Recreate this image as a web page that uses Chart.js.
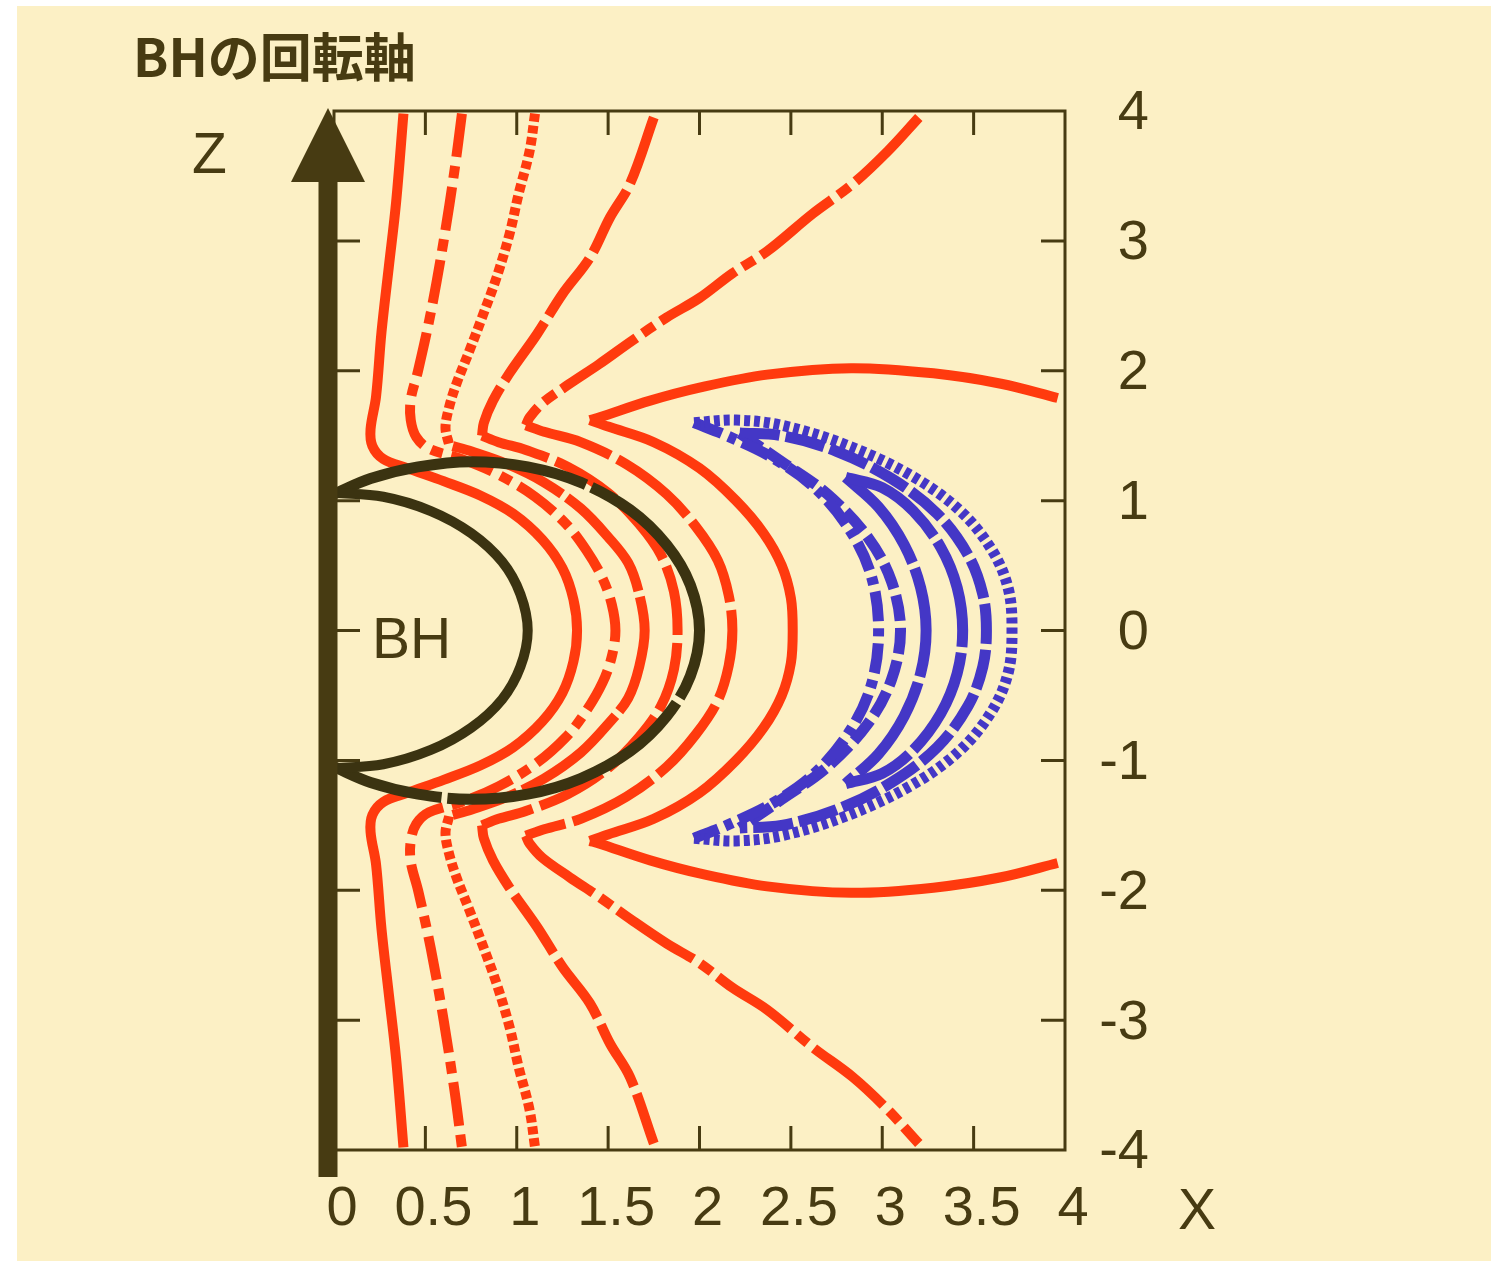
<!DOCTYPE html>
<html lang="ja">
<head>
<meta charset="UTF-8">
<title>BHの回転軸</title>
<script src="https://cdn.jsdelivr.net/npm/chart.js"></script>
<style>
  html, body { margin: 0; padding: 0; background: #ffffff; }
</style>
</head>
<body>
<canvas id="grafica" width="1491" height="1261"></canvas>
<script>
// ejes
const xTicks = [0, 0.5, 1, 1.5, 2, 2.5, 3, 3.5, 4];
const zTicks = [-4, -3, -2, -1, 0, 1, 2, 3, 4];

// horizonte y ergosfera
const horizX = [0, 0.27, 0.53, 0.75, 0.92, 1.02, 1.06, 1.02, 0.92, 0.75, 0.53, 0.27, 0];
const horizZ = [1.06, 1.03, 0.92, 0.75, 0.53, 0.28, 0, -0.28, -0.53, -0.75, -0.92, -1.03, -1.06];
const ergoX = [0, 0.20, 0.46, 0.75, 1.06, 1.35, 1.62, 1.82, 1.95, 2.00, 1.95, 1.82, 1.62, 1.35, 1.06, 0.75, 0.46, 0.20, 0];
const ergoZ = [1.05, 1.17, 1.26, 1.30, 1.26, 1.14, 0.93, 0.66, 0.35, 0, -0.35, -0.66, -0.93, -1.14, -1.26, -1.30, -1.26, -1.17, -1.05];

// lineas de campo (rojas)
const l1X = [0.38, 0.34, 0.30, 0.26, 0.23, 0.20, 0.21, 0.27, 0.40, 0.60, 0.80, 0.98, 1.14, 1.25, 1.31, 1.33, 1.31, 1.25, 1.14, 0.98, 0.80, 0.60, 0.40, 0.27, 0.21, 0.20, 0.23, 0.26, 0.30, 0.34, 0.38];
const l1Z = [3.98, 3.30, 2.80, 2.30, 1.80, 1.55, 1.42, 1.32, 1.25, 1.15, 1.04, 0.90, 0.70, 0.48, 0.24, 0, -0.24, -0.48, -0.70, -0.90, -1.04, -1.15, -1.25, -1.32, -1.42, -1.55, -1.80, -2.30, -2.80, -3.30, -3.98];

const l2X = [0.70, 0.66, 0.60, 0.53, 0.46, 0.42, 0.42, 0.45, 0.52, 0.70, 0.90, 1.10, 1.27, 1.38, 1.47, 1.52, 1.54, 1.52, 1.47, 1.38, 1.27, 1.10, 0.90, 0.70, 0.52, 0.45, 0.42, 0.42, 0.46, 0.53, 0.60, 0.66, 0.70];
const l2Z = [3.98, 3.55, 3.00, 2.45, 2.00, 1.78, 1.62, 1.49, 1.40, 1.32, 1.20, 1.03, 0.82, 0.62, 0.40, 0.20, 0, -0.20, -0.40, -0.62, -0.82, -1.03, -1.20, -1.32, -1.40, -1.49, -1.62, -1.78, -2.00, -2.45, -3.00, -3.55, -3.98];

const l3TopX = [1.10, 1.07, 1.01, 0.96, 0.89, 0.81, 0.74, 0.67, 0.63, 0.61, 0.63];
const l3TopZ = [3.98, 3.69, 3.36, 3.05, 2.72, 2.41, 2.15, 1.90, 1.72, 1.56, 1.43];
const l3ArcX = [0.65, 0.75, 0.95, 1.15, 1.35, 1.50, 1.61, 1.67, 1.70, 1.67, 1.61, 1.50, 1.35, 1.15, 0.95, 0.75, 0.65];
const l3ArcZ = [1.42, 1.38, 1.28, 1.14, 0.94, 0.72, 0.52, 0.28, 0, -0.28, -0.52, -0.72, -0.94, -1.14, -1.28, -1.38, -1.42];
const l3BotX = [0.63, 0.61, 0.63, 0.67, 0.74, 0.81, 0.89, 0.96, 1.01, 1.07, 1.10];
const l3BotZ = [-1.43, -1.56, -1.72, -1.90, -2.15, -2.41, -2.72, -3.05, -3.36, -3.69, -3.98];

const l4TopX = [1.75, 1.62, 1.51, 1.40, 1.25, 1.11, 0.96, 0.87, 0.82, 0.81];
const l4TopZ = [3.95, 3.44, 3.18, 2.87, 2.59, 2.28, 1.98, 1.77, 1.60, 1.50];
const l4ArcX = [0.81, 0.90, 1.05, 1.28, 1.50, 1.67, 1.79, 1.86, 1.88, 1.86, 1.79, 1.67, 1.50, 1.28, 1.05, 0.90, 0.81];
const l4ArcZ = [1.50, 1.45, 1.39, 1.26, 1.06, 0.82, 0.58, 0.30, 0, -0.30, -0.58, -0.82, -1.06, -1.26, -1.39, -1.45, -1.50];
const l4BotX = [0.81, 0.82, 0.87, 0.96, 1.11, 1.25, 1.40, 1.51, 1.62, 1.75];
const l4BotZ = [-1.50, -1.60, -1.77, -1.98, -2.28, -2.59, -2.87, -3.18, -3.44, -3.95];

const l5TopX = [3.20, 3.03, 2.84, 2.62, 2.37, 2.18, 2.00, 1.82, 1.63, 1.45, 1.29, 1.14, 1.07, 1.05];
const l5TopZ = [3.95, 3.69, 3.44, 3.21, 2.92, 2.75, 2.56, 2.41, 2.23, 2.05, 1.90, 1.75, 1.64, 1.58];
const l5ArcX = [1.05, 1.15, 1.35, 1.60, 1.82, 1.98, 2.10, 2.16, 2.18, 2.16, 2.10, 1.98, 1.82, 1.60, 1.35, 1.15, 1.05];
const l5ArcZ = [1.58, 1.53, 1.45, 1.28, 1.05, 0.80, 0.54, 0.27, 0, -0.27, -0.54, -0.80, -1.05, -1.28, -1.45, -1.53, -1.58];
const l5BotX = [1.05, 1.07, 1.14, 1.29, 1.45, 1.63, 1.82, 2.00, 2.18, 2.37, 2.62, 2.84, 3.03, 3.20];
const l5BotZ = [-1.58, -1.64, -1.75, -1.90, -2.05, -2.23, -2.41, -2.56, -2.75, -2.92, -3.21, -3.44, -3.69, -3.95];

const l6TopX = [3.96, 3.65, 3.28, 2.83, 2.37, 2.00, 1.73, 1.45, 1.40];
const l6TopZ = [1.79, 1.90, 1.98, 2.02, 1.97, 1.87, 1.77, 1.64, 1.62];
const l6ArcX = [1.40, 1.50, 1.75, 2.00, 2.20, 2.35, 2.45, 2.50, 2.51, 2.50, 2.45, 2.35, 2.20, 2.00, 1.75, 1.50, 1.40];
const l6ArcZ = [1.62, 1.57, 1.45, 1.25, 1.00, 0.75, 0.50, 0.25, 0, -0.25, -0.50, -0.75, -1.00, -1.25, -1.45, -1.57, -1.62];
const l6BotX = [1.40, 1.45, 1.73, 2.00, 2.37, 2.83, 3.28, 3.65, 3.96];
const l6BotZ = [-1.62, -1.64, -1.77, -1.87, -1.97, -2.02, -1.98, -1.90, -1.79];

// lazos cerrados (azules)
const aOutX = [1.97, 2.20, 2.45, 2.80, 3.15, 3.42, 3.60, 3.69, 3.71, 3.69, 3.60, 3.42, 3.15, 2.80, 2.45, 2.20, 1.97];
const aOutZ = [1.60, 1.62, 1.58, 1.43, 1.20, 0.93, 0.62, 0.32, 0, -0.32, -0.62, -0.93, -1.20, -1.43, -1.58, -1.62, -1.60];
const aInX = [1.97, 2.15, 2.40, 2.63, 2.82, 2.94, 2.98, 2.94, 2.82, 2.63, 2.40, 2.15, 1.97];
const aInZ = [1.60, 1.50, 1.33, 1.10, 0.78, 0.42, 0, -0.42, -0.78, -1.10, -1.33, -1.50, -1.60];
const bOutX = [2.22, 2.45, 2.75, 3.05, 3.30, 3.47, 3.55, 3.57, 3.55, 3.47, 3.30, 3.05, 2.75, 2.45, 2.22];
const bOutZ = [1.52, 1.50, 1.38, 1.17, 0.90, 0.58, 0.28, 0, -0.28, -0.58, -0.90, -1.17, -1.38, -1.50, -1.52];
const bInX = [2.22, 2.45, 2.70, 2.92, 3.05, 3.10, 3.05, 2.92, 2.70, 2.45, 2.22];
const bInZ = [1.52, 1.30, 1.05, 0.72, 0.38, 0, -0.38, -0.72, -1.05, -1.30, -1.52];
const cOutX = [2.80, 3.00, 3.17, 3.32, 3.41, 3.44, 3.41, 3.32, 3.17, 3.00, 2.80];
const cOutZ = [1.18, 1.10, 0.92, 0.64, 0.33, 0, -0.33, -0.64, -0.92, -1.10, -1.18];
const cInX = [2.80, 2.98, 3.12, 3.21, 3.24, 3.21, 3.12, 2.98, 2.80];
const cInZ = [1.18, 0.95, 0.66, 0.33, 0, -0.33, -0.66, -0.95, -1.18];

const TINTA = '#473b12';
const ROJO = '#ff3a0e';
const AZUL = '#4437c6';
const NEGRO = '#3b3311';
const FONDO = '#fcf0c5';

function puntos(xs, zs) {
    return xs.map((x, i) => ({ x: x, y: zs[i] }));
}

function linea(xs, zs, color, dash, ancho) {
    return {
        data: puntos(xs, zs),
        showLine: true,
        borderColor: color,
        borderWidth: ancho || 10,
        borderDash: dash,
        borderCapStyle: 'butt',
        borderJoinStyle: 'round',
        pointRadius: 0,
        tension: 0.35,
        fill: false
    };
}

// fondo crema con borde blanco
const fondo = {
    id: 'fondo',
    beforeDraw(chart) {
        const ctx = chart.ctx;
        ctx.save();
        ctx.fillStyle = '#ffffff';
        ctx.fillRect(0, 0, chart.width, chart.height);
        ctx.fillStyle = FONDO;
        ctx.fillRect(17, 6, chart.width - 17, chart.height - 6);
        ctx.restore();
    }
};

// marco y marcas hacia dentro
const marco = {
    id: 'marco',
    beforeDatasetsDraw(chart) {
        const { ctx, chartArea: a, scales } = chart;
        ctx.save();
        ctx.strokeStyle = TINTA;
        ctx.lineWidth = 3;
        ctx.strokeRect(a.left, a.top, a.right - a.left, a.bottom - a.top);
        ctx.beginPath();
        xTicks.slice(1, -1).forEach(v => {
            const px = scales.x.getPixelForValue(v);
            ctx.moveTo(px, a.bottom); ctx.lineTo(px, a.bottom - 24);
            ctx.moveTo(px, a.top); ctx.lineTo(px, a.top + 24);
        });
        zTicks.slice(1, -1).forEach(v => {
            const py = scales.y.getPixelForValue(v);
            ctx.moveTo(a.left, py); ctx.lineTo(a.left + 26, py);
            ctx.moveTo(a.right, py); ctx.lineTo(a.right - 24, py);
        });
        ctx.stroke();
        ctx.restore();
    },
    afterDatasetsDraw(chart) {
        const { ctx, chartArea: a, scales } = chart;
        const x0 = scales.x.getPixelForValue(0) - 6;
        ctx.save();
        ctx.fillStyle = TINTA;
        // eje de rotacion con flecha
        ctx.fillRect(x0 - 9.5, a.top + 70, 19, a.bottom - a.top - 70 + 27);
        ctx.beginPath();
        ctx.moveTo(x0, a.top - 3);
        ctx.lineTo(x0 - 37, a.top + 71);
        ctx.lineTo(x0 + 37, a.top + 71);
        ctx.closePath();
        ctx.fill();

        ctx.textAlign = 'left';
        ctx.textBaseline = 'alphabetic';
        ctx.font = '57px "Liberation Sans", Arial, sans-serif';
        ctx.fillText('Z', 192, 173);
        ctx.fillText('X', 1178, 1229);
        ctx.fillText('BH', 372, 658);
        ctx.font = 'bold 52px "Noto Sans CJK JP", sans-serif';
        ctx.textBaseline = 'middle';
        ctx.fillText('BHの回転軸', 133, 57);
        ctx.restore();
    }
};

const datasets = [
    linea(horizX, horizZ, NEGRO, [], 10),
    linea(ergoX, ergoZ, NEGRO, [260, 6], 11),
    linea(aOutX, aOutZ, AZUL, [6, 4], 11),
    linea(aInX, aInZ, AZUL, [30, 7, 8, 7], 11),
    linea(bOutX, bOutZ, AZUL, [40, 6], 11),
    linea(bInX, bInZ, AZUL, [26, 7], 11),
    linea(cOutX, cOutZ, AZUL, [110, 6], 11),
    linea(cInX, cInZ, AZUL, [110, 6], 11),
    linea(l1X, l1Z, ROJO, []),
    linea(l2X, l2Z, ROJO, [44, 9, 12, 9]),
    linea(l3TopX, l3TopZ, ROJO, [8, 4]),
    linea(l3ArcX, l3ArcZ, ROJO, [120, 6]),
    linea(l3BotX, l3BotZ, ROJO, [8, 4]),
    linea(l4TopX, l4TopZ, ROJO, [70, 8]),
    linea(l4ArcX, l4ArcZ, ROJO, [70, 8]),
    linea(l4BotX, l4BotZ, ROJO, [70, 8]),
    linea(l5TopX, l5TopZ, ROJO, [90, 8, 14, 8]),
    linea(l5ArcX, l5ArcZ, ROJO, [90, 8]),
    linea(l5BotX, l5BotZ, ROJO, [90, 8, 14, 8]),
    linea(l6TopX, l6TopZ, ROJO, []),
    linea(l6ArcX, l6ArcZ, ROJO, []),
    linea(l6BotX, l6BotZ, ROJO, [])
];

const fuenteEje = { family: '"Liberation Sans", Arial, sans-serif', size: 56 };

new Chart(document.getElementById('grafica'), {
    type: 'scatter',
    data: { datasets: datasets },
    options: {
        responsive: false,
        devicePixelRatio: 1,
        animation: false,
        layout: { padding: { left: 334, top: 111, right: 342, bottom: 0 } },
        plugins: { legend: { display: false }, tooltip: { enabled: false } },
        scales: {
            x: {
                type: 'linear', position: 'bottom', min: 0, max: 4,
                grid: { display: false, drawTicks: false },
                border: { display: false },
                afterBuildTicks: s => { s.ticks = xTicks.map(v => ({ value: v })); },
                afterFit: s => { s.height = 111; },
                ticks: {
                    autoSkip: false, maxRotation: 0, minRotation: 0,
                    padding: 26, labelOffset: 8,
                    color: TINTA, font: fuenteEje,
                    callback: v => String(v)
                }
            },
            y: {
                type: 'linear', position: 'right', min: -4, max: 4,
                grid: { display: false, drawTicks: false },
                border: { display: false },
                afterBuildTicks: s => { s.ticks = zTicks.map(v => ({ value: v })); },
                afterFit: s => { s.width = 84; },
                ticks: {
                    crossAlign: 'far', padding: 33, labelOffset: 3,
                    color: TINTA, font: fuenteEje,
                    callback: v => String(v)
                }
            }
        }
    },
    plugins: [fondo, marco]
});
</script>
</body>
</html>
